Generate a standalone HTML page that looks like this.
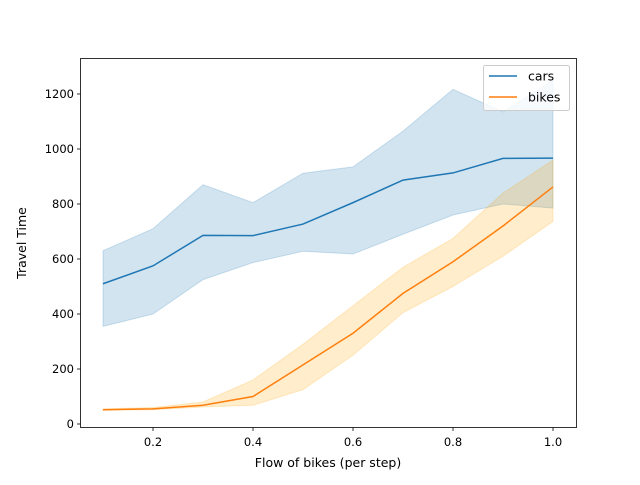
<!DOCTYPE html>
<html><head><meta charset="utf-8"><style>
body{margin:0;background:#fff}
text{font-family:"DejaVu Sans","Liberation Sans",sans-serif;fill:#000}
</style></head><body>
<svg id="chart" width="640" height="480" xmlns="http://www.w3.org/2000/svg">
<rect width="640" height="480" fill="#fff"/>
<g id="plot"></g>
</svg>
<script>
const xs=[0.1,0.2,0.3,0.4,0.5,0.6,0.7,0.8,0.9,1.0];
const carsMean=[510,575,686,685,727,805,887,913,966,967];
const carsUpper=[630,710,870,805,912,935,1065,1217,1135,1250];
const carsLower=[355,400,525,587,628,618,690,760,800,785];
const bikesMean=[52,55,68,100,215,330,475,590,720,862];
const bikesUpper=[55,60,80,160,290,430,570,675,840,960];
const bikesLower=[50,52,62,68,125,250,405,500,610,737];
const xTicks=[0.2,0.4,0.6,0.8,1.0];
const xTickLabels=["0.2","0.4","0.6","0.8","1.0"];
const yTicks=[0,200,400,600,800,1000,1200];
const yTickLabels=["0","200","400","600","800","1000","1200"];

const NS="http://www.w3.org/2000/svg";
const g=document.getElementById('plot');
const X=v=>53+500*v, Y=v=>424-0.275*v;
function mk(t,a){const e=document.createElementNS(NS,t);for(const k in a)e.setAttribute(k,a[k]);g.appendChild(e);return e;}
function band(up,lo,fill,op,name){
  let pts=xs.map((x,i)=>X(x)+','+Y(up[i]));
  pts=pts.concat(xs.map((x,i)=>X(x)+','+Y(lo[i])).reverse());
  const p=mk('polygon',{points:pts.join(' '),fill:fill,'fill-opacity':op,stroke:fill,'stroke-opacity':op});
  
  
}
function line(m,c,name){
  const p=mk('polyline',{points:xs.map((x,i)=>X(x)+','+Y(m[i])).join(' '),fill:'none',stroke:c,'stroke-width':1.5});
  
  
}
band(carsUpper,carsLower,'#1f77b4',0.2,'cars-band');
line(carsMean,'#1f77b4','cars-line');
band(bikesUpper,bikesLower,'#ffa500',0.2,'bikes-band');
line(bikesMean,'#ff7f0e','bikes-line');
const frame=mk('rect',{x:80.5,y:58.5,width:496,height:369,fill:'none',stroke:'#000','stroke-width':0.8});


xTicks.forEach((v,i)=>{
  mk('line',{x1:X(v),x2:X(v),y1:427.5,y2:431,stroke:'#000','stroke-width':0.8});
  const t=mk('text',{x:X(v),y:446,'text-anchor':'middle','font-size':11.5});t.textContent=xTickLabels[i];
  
  
});
yTicks.forEach((v,i)=>{
  mk('line',{x1:77,x2:80.5,y1:Y(v),y2:Y(v),stroke:'#000','stroke-width':0.8});
  const t=mk('text',{x:74,y:Y(v)+4,'text-anchor':'end','font-size':11.5});t.textContent=yTickLabels[i];
  
  
});
const xl=mk('text',{x:328,y:467,'text-anchor':'middle','font-size':12.5});xl.textContent='Flow of bikes (per step)';


const yl=mk('text',{x:26,y:243,'text-anchor':'middle','font-size':12.5,transform:'rotate(-90 26 243)'});yl.textContent='Travel Time';


const lg=mk('rect',{x:483.5,y:65.5,width:86,height:45,rx:2,fill:'#fff','fill-opacity':0.8,stroke:'#ccc'});


[['cars','#1f77b4',76],['bikes','#ff7f0e',97]].forEach(([n,c,y])=>{
  mk('line',{x1:489,x2:517,y1:y,y2:y,stroke:c,'stroke-width':1.5});
  const t=mk('text',{x:528,y:y+4.5,'font-size':12.5});t.textContent=n;
  
  
});
</script>
</body></html>
